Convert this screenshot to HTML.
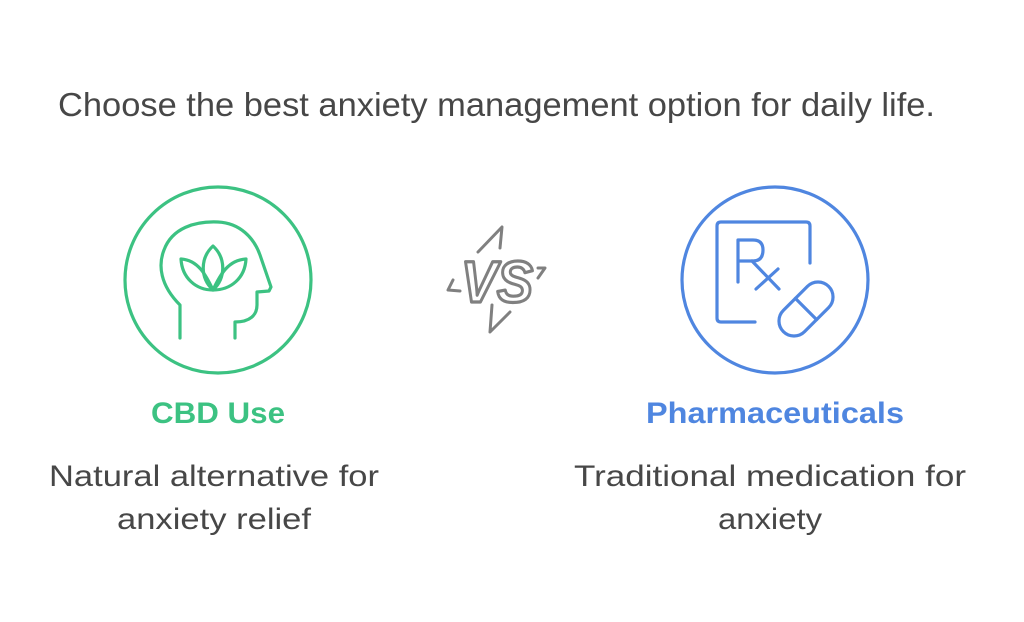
<!DOCTYPE html>
<html><head><meta charset="utf-8"><style>
html,body{margin:0;padding:0;background:#fff;}
svg{display:block}
text{font-family:"Liberation Sans",sans-serif;}
</style></head><body>
<svg width="1024" height="622" viewBox="0 0 1024 622" xmlns="http://www.w3.org/2000/svg">
<rect width="1024" height="622" fill="#fff"/>
<text x="58" y="116" font-size="33" fill="#474747" textLength="877" lengthAdjust="spacingAndGlyphs">Choose the best anxiety management option for daily life.</text>

<g fill="none" stroke="#3cc282" stroke-width="3.2" stroke-linecap="round" stroke-linejoin="round">
<circle cx="218" cy="280" r="93"/>
<path d="M180,338 V305 C160,285 158,265 164,250 C172,228 195,221 218,222 C240,223 254,238 260,255 L271,287 L269,291 L257,292 V305 C257,315 250,322 235,322 V338"/>
<path d="M213,246 C200,258 200,278 213,290 C226,278 226,258 213,246 Z"/>
<path d="M181,259 C182,278 196,290 213,290 C206,275 198,260 181,259 Z"/>
<path d="M246,259 C245,278 231,290 213,290 C220,275 228,260 246,259 Z"/>
</g>

<g fill="none" stroke="#808080" stroke-width="3" stroke-linecap="round" stroke-linejoin="round">
<path d="M478,252 L502,227 L500,248"/>
<path d="M492,305 L490,332 L510,312"/>
<path d="M453,280 L448,290 L460,291"/>
<path d="M538,268 L545,268 L538,278"/>
</g>
<text x="497" y="302" font-size="58" font-weight="bold" font-style="italic" text-anchor="middle" fill="#fff" stroke="#808080" stroke-width="3.2" stroke-linejoin="round" textLength="72" lengthAdjust="spacingAndGlyphs">VS</text>

<g fill="none" stroke="#4f86e0" stroke-width="3.2" stroke-linecap="round" stroke-linejoin="round">
<circle cx="775" cy="280" r="93"/>
<path d="M755,322 H721 Q717,322 717,318 V226 Q717,222 721,222 H806 Q810,222 810,226 V263"/>
<path d="M738,282 V240 H753 Q763,240 763,250 Q763,261 753,261 H738"/>
<path d="M752,261 L779,289"/>
<path d="M756,289 L778,269"/>
<g transform="translate(806,309) rotate(-45)">
<rect x="-32" y="-15" width="64" height="30" rx="15"/>
<line x1="0" y1="-15" x2="0" y2="15"/>
</g>
</g>

<text x="218" y="423" font-size="30" font-weight="bold" fill="#3cc282" text-anchor="middle" textLength="134" lengthAdjust="spacingAndGlyphs">CBD Use</text>
<text x="775" y="423" font-size="30" font-weight="bold" fill="#4f86e0" text-anchor="middle" textLength="258" lengthAdjust="spacingAndGlyphs">Pharmaceuticals</text>

<text x="214" y="486" font-size="30" fill="#474747" text-anchor="middle" textLength="330" lengthAdjust="spacingAndGlyphs">Natural alternative for</text>
<text x="214" y="529" font-size="30" fill="#474747" text-anchor="middle" textLength="194" lengthAdjust="spacingAndGlyphs">anxiety relief</text>
<text x="770" y="486" font-size="30" fill="#474747" text-anchor="middle" textLength="392" lengthAdjust="spacingAndGlyphs">Traditional medication for</text>
<text x="770" y="529" font-size="30" fill="#474747" text-anchor="middle" textLength="104" lengthAdjust="spacingAndGlyphs">anxiety</text>
</svg>
</body></html>
